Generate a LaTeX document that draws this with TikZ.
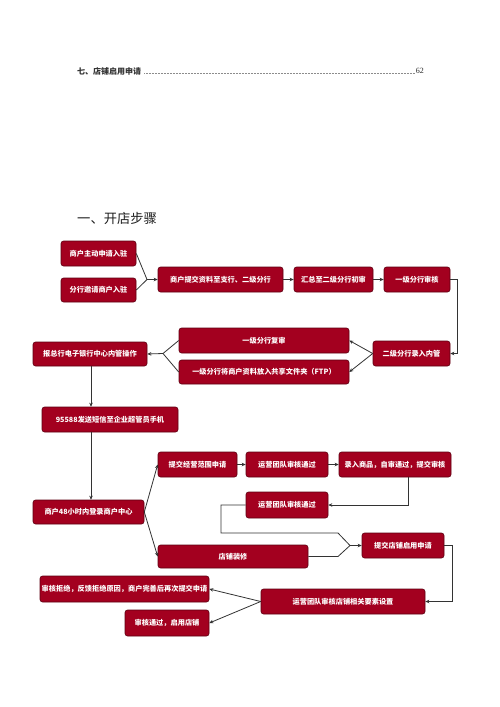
\documentclass[tikz,border=0pt]{standalone}
\usepackage{fontspec}
\setmainfont{Liberation Serif}
\newfontfamily\cjk{Noto Sans CJK SC}
\usetikzlibrary{arrows.meta}
\definecolor{boxred}{HTML}{A3001F}
\definecolor{boxedge}{HTML}{5E0012}
\definecolor{linegray}{HTML}{333333}
\begin{document}
\begin{tikzpicture}[x=1pt,y=-1pt,
  box/.style={draw=boxedge,line width=0.6pt,fill=boxred,rounded corners=2.5pt,inner sep=0pt,
    text=white,font=\cjk\bfseries\fontsize{7.2}{8}\selectfont},
  conn/.style={draw=linegray,line width=0.8pt},
  arr/.style={conn,-{Stealth[length=4pt,width=3.5pt]}}]
\useasboundingbox (0,0) rectangle (500,707);
\fill[white] (0,0) rectangle (500,707);
% header
\node[anchor=west,inner sep=0pt,font=\cjk\bfseries\fontsize{8}{9}\selectfont,text=black!80] (toc) at (77,71) {七、店铺启用申请};
\node[anchor=east,inner sep=0pt,font=\fontsize{8}{9}\selectfont,text=black!85] (pg) at (424,71) {62};
\draw[black!45,line width=0.4pt,dash pattern=on 0.4pt off 1.1pt] ([xshift=3pt,yshift=-2.5pt]toc.east) -- ([xshift=-1pt,yshift=-2.5pt]pg.west);
\node[anchor=west,inner sep=0pt,font=\cjk\fontsize{13.3}{15}\selectfont,text=black!88] (title) at (77,218) {一、开店步骤};
% boxes
\node[box,minimum width=75pt,minimum height=25pt] (a1) at (98.5,253.5) {商户主动申请入驻};
\node[box,minimum width=75pt,minimum height=24pt] (a2) at (98.5,290) {分行邀请商户入驻};
\node[box,minimum width=125pt,minimum height=25pt] (b) at (220.5,279.5) {商户提交资料至支行、二级分行};
\node[box,minimum width=79pt,minimum height=25pt] (c) at (333.5,279.5) {汇总至二级分行初审};
\node[box,minimum width=66pt,minimum height=25pt] (d) at (417,279.5) {一级分行审核};
\node[box,minimum width=77pt,minimum height=25pt] (e) at (411.5,353.5) {二级分行录入内管};
\node[box,minimum width=170pt,minimum height=25pt] (f1) at (264,340.5) {一级分行复审};
\node[box,minimum width=170pt,minimum height=24pt] (f2) at (264,372) {一级分行将商户资料放入共享文件夹（FTP）};
\node[box,minimum width=114pt,minimum height=24pt] (g) at (90,354) {报总行电子银行中心内管操作};
\node[box,minimum width=136pt,minimum height=25pt] (h) at (110,419.5) {95588发送短信至企业超管员手机};
\node[box,minimum width=111pt,minimum height=24pt] (i) at (88.5,512) {商户48小时内登录商户中心};
\node[box,minimum width=79pt,minimum height=25pt] (j1) at (197.5,464.5) {提交经营范围申请};
\node[box,minimum width=82pt,minimum height=25pt] (j2) at (287,464.5) {运营团队审核通过};
\node[box,minimum width=112pt,minimum height=25pt] (j3) at (395,464.5) {录入商品，自审通过，提交审核};
\node[box,minimum width=82pt,minimum height=26pt] (k) at (287,505) {运营团队审核通过};
\node[box,minimum width=150pt,minimum height=23pt] (l) at (233,556.5) {店铺装修};
\node[box,minimum width=82pt,minimum height=25pt] (m) at (403,545.5) {提交店铺启用申请};
\node[box,minimum width=164pt,minimum height=25pt] (n) at (343,601.5) {运营团队审核店铺相关要素设置};
\node[box,minimum width=169pt,minimum height=26pt] (o1) at (124.5,589) {审核拒绝，反馈拒绝原因，商户完善后再次提交申请};
\node[box,minimum width=84pt,minimum height=26pt] (o2) at (167,623) {审核通过，启用店铺};
% junction coordinates
\coordinate (ja) at (147,279.5);
\coordinate (jd) at (457,279.5);
\coordinate (jf) at (163,353.5);
\coordinate (jh) at (91,432);
\coordinate (jj3) at (408,477);
\coordinate (jk) at (221,505);
\coordinate (jkl) at (221,533);
\coordinate (jkr) at (338,533);
\coordinate (jlr) at (338,556.5);
\coordinate (jm) at (350,545.5);
\coordinate (jme) at (452,545.5);
% connectors
\draw[conn] (a1.east) -- (ja);
\draw[conn] (a2.east) -- (ja);
\draw[arr] (ja) -- (b.west);
\draw[arr] (b.east) -- (c.west);
\draw[arr] (c.east) -- (d.west);
\draw[arr] (d.east) -- (jd) |- (e.east);
\draw[arr] (e.west) -- (f1.east);
\draw[arr] (e.west) -- (f2.east);
\draw[conn] (f1.west) -- (jf);
\draw[conn] (f2.west) -- (jf);
\draw[arr] (jf) -- (g.east);
\draw[arr] (g.south -| jh) -- (h.north -| jh);
\draw[arr] (jh) -- (i.north -| jh);
\draw[arr] (i.east) -- (j1.west);
\draw[arr] (i.east) -- (l.west);
\draw[arr] (j1.east) -- (j2.west);
\draw[arr] (j2.east) -- (j3.west);
\draw[arr] (jj3) |- (k.east);
\draw[conn] (k.west) -- (jk) -- (jkl) -- (jkr) -- (jm);
\draw[conn] (l.east) -- (jlr) -- (jm);
\draw[arr] (jm) -- (m.west);
\draw[arr] (m.east) -- (jme) |- (n.east);
\draw[arr] (n.west) -- (o1.east);
\draw[arr] (n.west) -- (o2.east);
\end{tikzpicture}
\end{document}
